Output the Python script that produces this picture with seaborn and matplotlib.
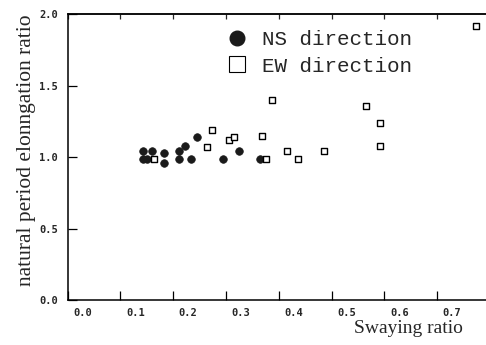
#!/usr/bin/env python3
"""Natural period elongation ratio vs swaying ratio, NS and EW directions."""

import matplotlib

matplotlib.use("Agg")
import matplotlib.pyplot as plt
import matplotlib.transforms as mtransforms
from matplotlib.lines import Line2D
import pandas as pd
import seaborn as sns


NS_SWAY = [0.142, 0.142, 0.150, 0.160, 0.183, 0.183, 0.212, 0.212, 0.222, 0.233,
           0.245, 0.294, 0.324, 0.365]
NS_RATIO = [1.04, 0.99, 0.99, 1.04, 1.03, 0.96, 1.04, 0.99, 1.08, 0.99,
            1.14, 0.99, 1.04, 0.99]

EW_SWAY = [0.164, 0.264, 0.273, 0.305, 0.315, 0.368, 0.387, 0.376, 0.415, 0.436,
           0.486, 0.565, 0.592, 0.592, 0.773]
EW_RATIO = [0.99, 1.07, 1.19, 1.12, 1.14, 1.15, 1.40, 0.99, 1.04, 0.99,
            1.04, 1.36, 1.24, 1.08, 1.92]

X_TICKS = [0.0, 0.1, 0.2, 0.3, 0.4, 0.5, 0.6, 0.7]
Y_TICKS = [0.0, 0.5, 1.0, 1.5, 2.0]


def main() -> None:
    ns = pd.DataFrame({"sway": NS_SWAY, "ratio": NS_RATIO})
    ew = pd.DataFrame({"sway": EW_SWAY, "ratio": EW_RATIO})

    sns.set_style("ticks")
    plt.rcParams["font.family"] = ["DejaVu Sans Mono"]

    fig = plt.figure(figsize=(4.86, 3.45), dpi=100)
    ax = fig.add_axes([0.139, 0.130, 0.861, 0.829])

    sns.scatterplot(data=ns, x="sway", y="ratio", marker="o", s=30,
                    color="#1a1a1a", edgecolor="#1a1a1a", linewidth=0.5, ax=ax)
    sns.scatterplot(data=ew, x="sway", y="ratio", marker="s", s=13,
                    facecolor="white", edgecolor="black", linewidth=1.0, ax=ax)

    ax.set_xlim(0, 0.7926)
    ax.set_ylim(0, 2.0)
    ax.set_xticks(X_TICKS)
    ax.set_xticklabels([f"{v:.1f}" for v in X_TICKS], fontweight="bold")
    ax.set_yticks(Y_TICKS)
    ax.set_yticklabels([f"{v:.1f}" for v in Y_TICKS], fontweight="bold")
    ax.tick_params(axis="both", direction="in", length=6.5, width=0.9,
                   labelsize=7.5, color="black")
    ax.tick_params(axis="x", pad=6)
    ax.tick_params(axis="y", pad=7)

    # the printed tick labels sit to the right of their tick marks
    shift = mtransforms.ScaledTranslation(0.15, 0, fig.dpi_scale_trans)
    for lab in ax.get_xticklabels():
        lab.set_transform(lab.get_transform() + shift)

    top = ax.secondary_xaxis("top")
    top.set_xticks(X_TICKS)
    top.set_xticklabels([])
    top.tick_params(direction="in", length=3.5, width=0.9)
    top.spines["top"].set_linewidth(1.1)

    for side in ("left", "bottom", "top"):
        ax.spines[side].set_linewidth(1.1)
        ax.spines[side].set_color("black")
    ax.spines["right"].set_visible(False)

    ax.set_xlabel("Swaying ratio", family="Liberation Serif", fontsize=14)
    ax.xaxis.set_label_coords(0.814, -0.068)
    ax.set_ylabel("natural period elonngation ratio", family="Liberation Serif",
                  fontsize=15.5)
    ax.yaxis.set_label_coords(-0.075, 0.524)

    handles = [
        Line2D([], [], marker="o", linestyle="", markersize=10.5,
               markerfacecolor="#1a1a1a", markeredgecolor="#1a1a1a"),
        Line2D([], [], marker="s", linestyle="", markersize=12,
               markerfacecolor="white", markeredgecolor="black", markeredgewidth=0.8),
    ]
    ax.legend(handles, ["NS direction", "EW direction"], loc="upper left",
              bbox_to_anchor=(0.360, 0.972), frameon=False, handlelength=1.0,
              handletextpad=0.7, labelspacing=0.35, borderaxespad=0,
              prop={"family": "Liberation Mono", "size": 15})

    fig.savefig("out.png", dpi=100)


if __name__ == "__main__":
    main()
